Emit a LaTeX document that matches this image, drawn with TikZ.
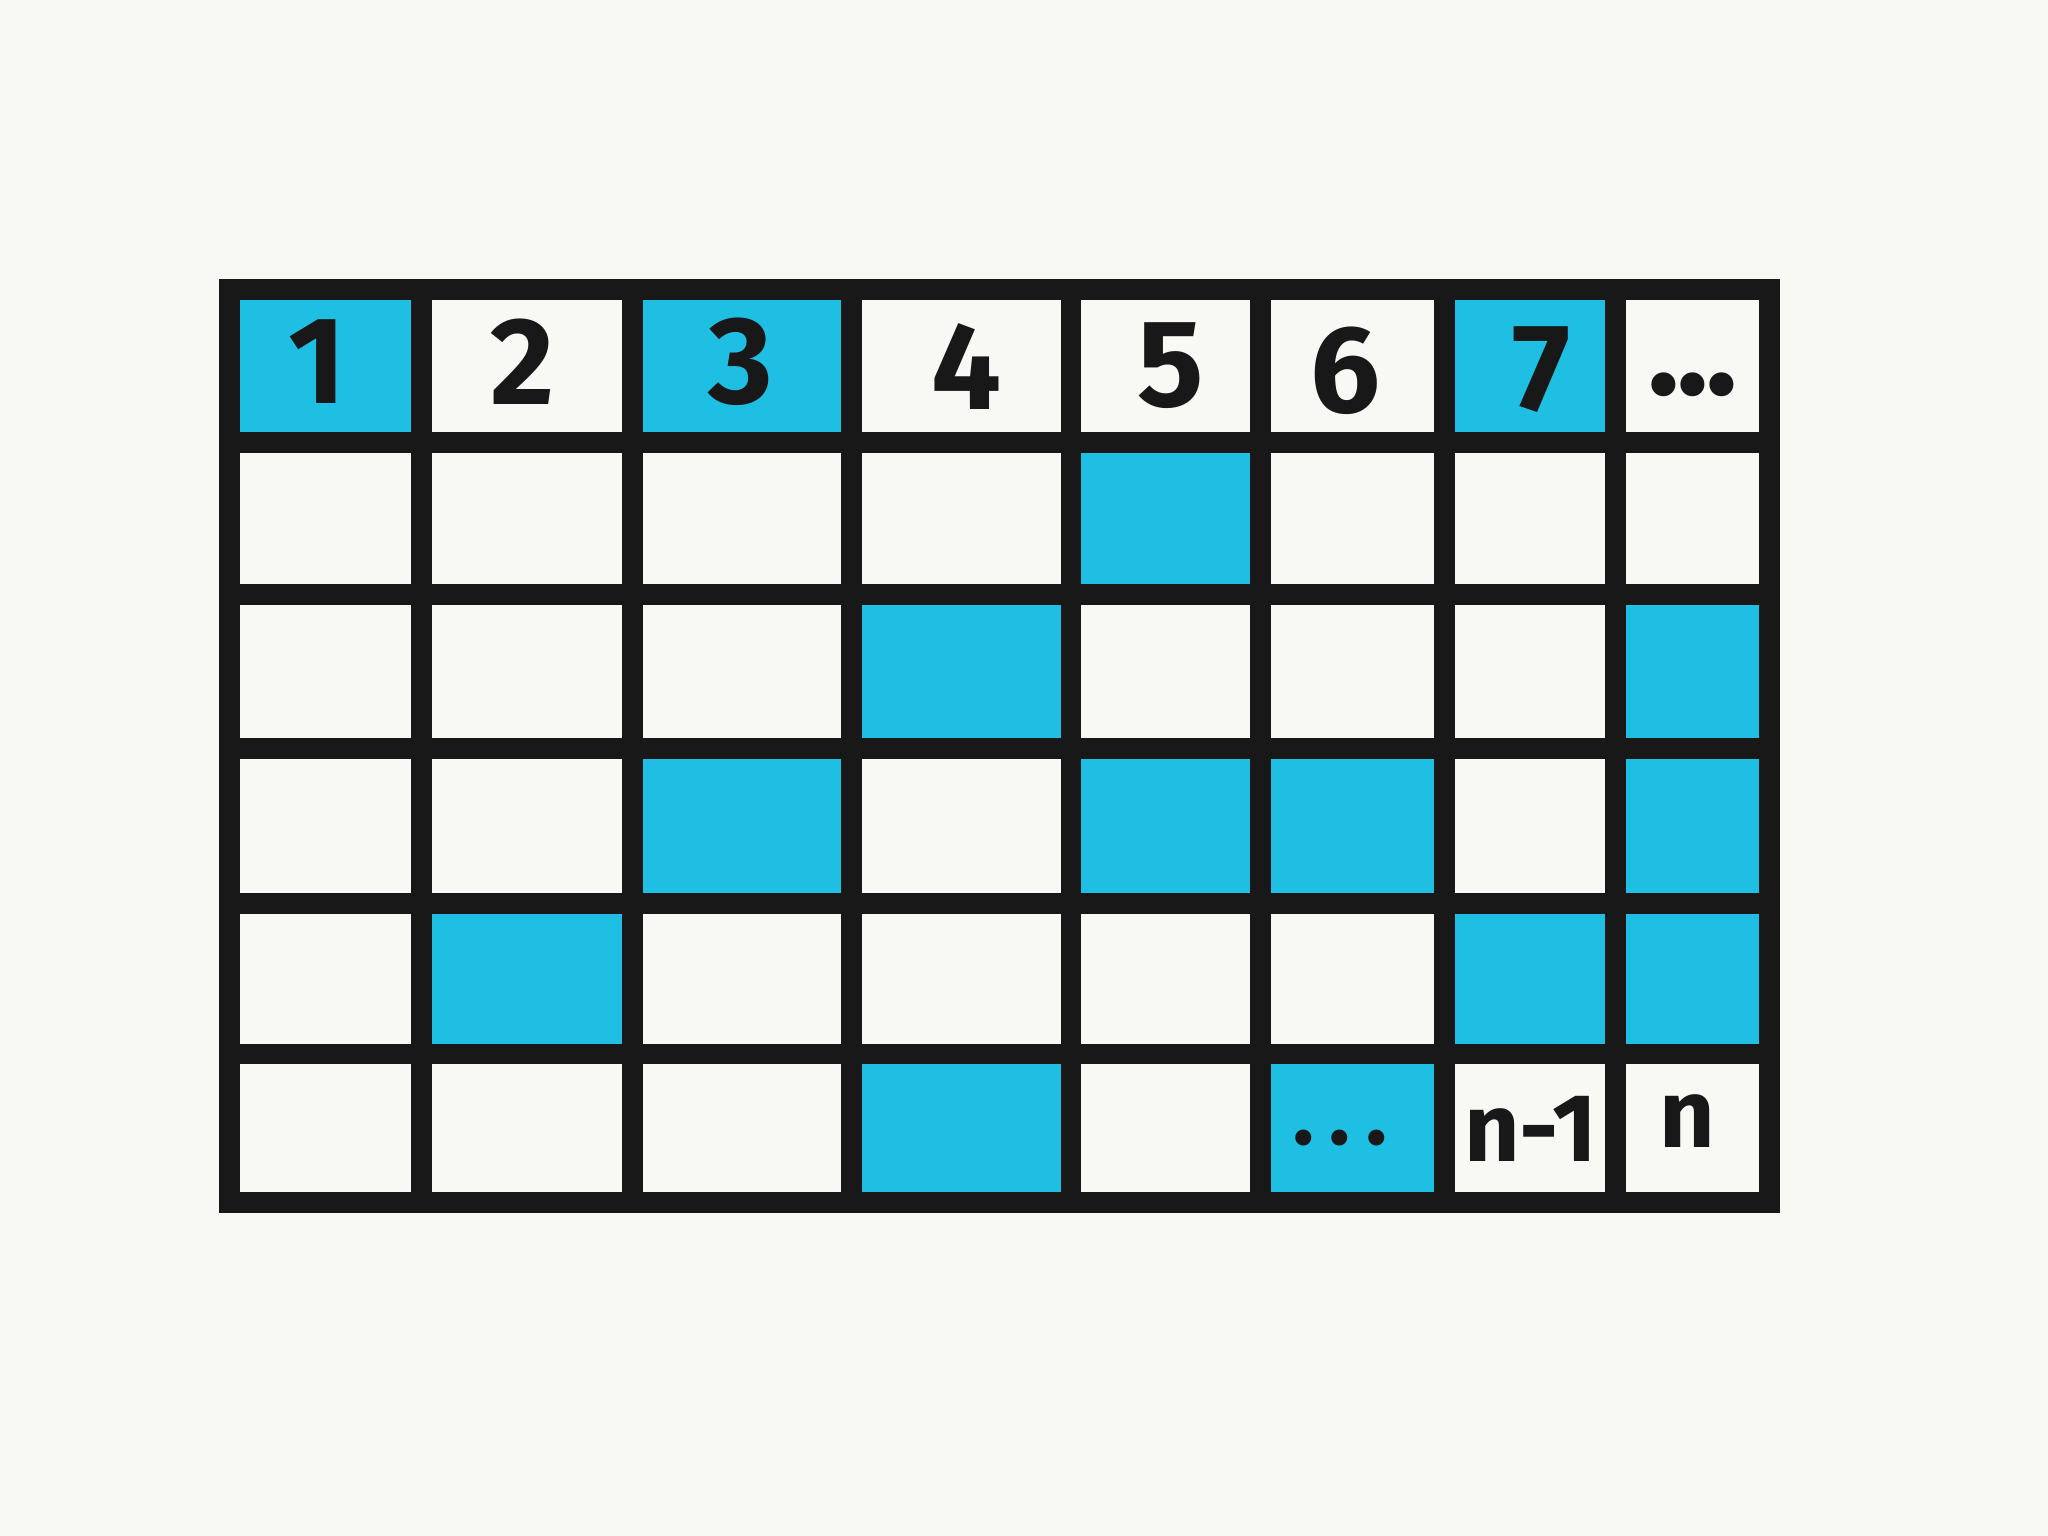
\documentclass[tikz,border=0pt]{standalone}
\usepackage{fontspec}
\setmainfont{Fira Sans}
\newfontfamily\dotfont{DejaVu Sans}
\definecolor{bg}{RGB}{248,249,245}
\definecolor{ink}{RGB}{24,24,24}
\definecolor{wash}{RGB}{30,191,227}
\tikzset{
  gridline/.style={ink, line width=0.16cm, line cap=rect},
  digit/.style={inner sep=0pt, text=ink, font=\fontsize{27}{27}\selectfont\bfseries},
  small/.style={inner sep=0pt, text=ink, font=\fontsize{21}{21}\selectfont\bfseries},
}
\begin{document}
\begin{tikzpicture}[x=0.01cm,y=-0.01cm]
\fill[bg] (0,0) rectangle (1568,1176);
\useasboundingbox (0,0) rectangle (1568,1176);
\def\X{{176,323,484,652,820,965,1106,1237,1355}}
\def\Y{{222,339,455,573,692,807,921}}
% washed cells
\foreach \c/\r in {1/1,3/1,7/1,5/2,4/3,8/3,3/4,5/4,6/4,8/4,2/5,7/5,8/5,4/6,6/6}{
  \pgfmathsetmacro\xa{\X[\c-1]}
  \pgfmathsetmacro\xb{\X[\c]}
  \pgfmathsetmacro\ya{\Y[\r-1]}
  \pgfmathsetmacro\yb{\Y[\r]}
  \fill[wash] (\xa,\ya) rectangle (\xb,\yb);
}
% grid
\foreach \x in {176,323,484,652,820,965,1106,1237,1355}
  \draw[gridline] (\x,222) -- (\x,921);
\foreach \y in {222,339,455,573,692,807,921}
  \draw[gridline] (176,\y) -- (1355,\y);
% header numbers
\node[digit] (h1) at (243,277) {1};
\node[digit] (h2) at (400,277) {2};
\node[digit] (h3) at (567,277) {3};
\node[digit] (h4) at (740,281) {4};
\node[digit] (h5) at (896,280) {5};
\node[digit] (h6) at (1030,284) {6};
\node[digit] (h7) at (1180,283) {7};
\node[inner sep=0pt, text=ink, font=\dotfont\fontsize{18}{18}\selectfont] (hdots) at (1296,302) {•\kern-4.4pt•\kern-4.4pt•};
% last row
\node[inner sep=0pt, text=ink, font=\dotfont\fontsize{12}{12}\selectfont] (ldots) at (1026,876) {•\kern0.8pt•\kern0.8pt•};
\node[small] (nm1) at (1172,864) {n-1};
\node[small] (nn) at (1292,858) {n};
\end{tikzpicture}
\end{document}
